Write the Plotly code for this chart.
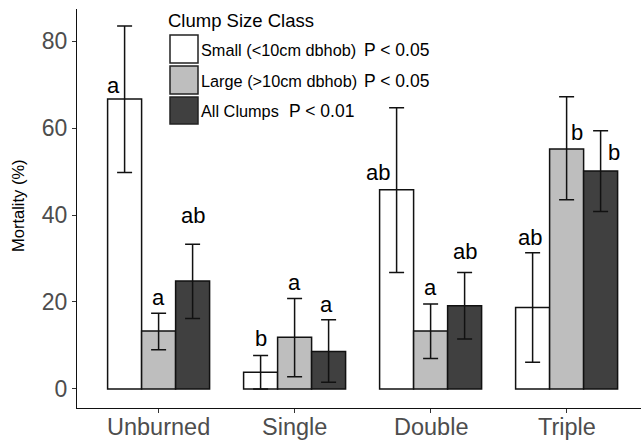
import plotly.graph_objects as go

# ---------------- data ----------------
categories = ["Unburned", "Single", "Double", "Triple"]

small_mean = [66.7, 3.8, 45.8, 18.7]
small_upper = [83.5, 7.7, 64.7, 31.3]
small_lower = [49.8, 0.0, 26.8, 6.1]

large_mean = [13.3, 11.9, 13.3, 55.2]
large_upper = [17.4, 20.8, 19.5, 67.2]
large_lower = [9.0, 2.8, 7.0, 43.5]

all_mean = [24.8, 8.6, 19.1, 50.1]
all_upper = [33.3, 15.9, 26.8, 59.4]
all_lower = [16.2, 1.5, 11.5, 40.8]

small_letters = ["a", "b", "ab", "ab"]
large_letters = ["a", "a", "a", "b"]
all_letters = ["ab", "a", "ab", "b"]

small_letter_y = [69.7, 11.7, 49.7, 34.9]
large_letter_y = [21.1, 24.5, 23.4, 58.9]
all_letter_y = [39.8, 19.5, 31.5, 54.3]

series_names = ["Small (<10cm dbhob)", "Large (>10cm dbhob)", "All Clumps"]
p_values = ["P < 0.05", "P < 0.05", "P < 0.01"]
legend_title = "Clump Size Class"
y_ticks = [0, 20, 40, 60, 80]

# ---------------- styling ----------------
FONT = "Liberation Sans, Arial, sans-serif"
colors = ["#ffffff", "#bebebe", "#404040"]
W, H = 641, 440
ML, MR, MT, MB = 77, 0, 9, 32
PW, PH = W - ML - MR, H - MT - MB


def px_x(p):
    return (p - ML) / PW


def px_y(p):
    return (H - MB - p) / PH


fig = go.Figure()
series = [
    (small_mean, small_upper, small_lower),
    (large_mean, large_upper, large_lower),
    (all_mean, all_upper, all_lower),
]
for i, (m, u, lo) in enumerate(series):
    fig.add_trace(go.Bar(
        x=categories, y=m, name=series_names[i],
        marker=dict(color=colors[i], line=dict(color="#111111", width=1.5)),
        error_y=dict(type="data", symmetric=False,
                     array=[a - b for a, b in zip(u, m)],
                     arrayminus=[b - c for b, c in zip(m, lo)],
                     color="#111111", thickness=1.5, width=7.5),
        showlegend=False,
    ))

# significance letters
offsets = [[-0.335, -0.25, -0.386, -0.27],
           [0.0, 0.0, 0.0, 0.077],
           [0.25, 0.238, 0.25, 0.35]]
letters = [small_letters, large_letters, all_letters]
letter_y = [small_letter_y, large_letter_y, all_letter_y]
for s in range(3):
    for c in range(len(categories)):
        fig.add_annotation(x=c + offsets[s][c], y=letter_y[s][c], xref="x", yref="y",
                           text=letters[s][c], showarrow=False,
                           font=dict(family=FONT, size=22, color="#000000"),
                           xanchor="center", yanchor="middle")

# x tick labels (drawn as annotations so they sit close to the axis)
for c, name in enumerate(categories):
    fig.add_annotation(x=c, y=px_y(427), xref="x", yref="paper", text=name,
                       showarrow=False, xanchor="center", yanchor="middle",
                       font=dict(family=FONT, size=23.5, color="#4d4d4d"))

# custom legend
fig.add_annotation(x=px_x(166), y=px_y(20), xref="paper", yref="paper",
                   text=legend_title, showarrow=False, xanchor="left", yanchor="middle",
                   font=dict(family=FONT, size=18.5, color="#000000"))
rows = [(35, 63), (66, 94), (97, 124)]
p_x = [362, 362, 287]
for i, (t, b) in enumerate(rows):
    fig.add_shape(type="rect", xref="paper", yref="paper",
                  x0=px_x(170), x1=px_x(198), y0=px_y(b), y1=px_y(t),
                  fillcolor=colors[i], line=dict(color="#222222", width=1.5))
    fig.add_annotation(x=px_x(199), y=px_y((t + b) / 2 + 1), xref="paper", yref="paper",
                       text=series_names[i], showarrow=False, xanchor="left", yanchor="middle",
                       font=dict(family=FONT, size=16.3, color="#000000"))
    fig.add_annotation(x=px_x(p_x[i]), y=px_y((t + b) / 2 + 1), xref="paper", yref="paper",
                       text=p_values[i], showarrow=False, xanchor="left", yanchor="middle",
                       font=dict(family=FONT, size=17.5, color="#000000"))

# y title
fig.add_annotation(x=px_x(18), y=px_y(206), xref="paper", yref="paper",
                   text="Mortality (%)", showarrow=False, textangle=-90,
                   xanchor="center", yanchor="middle",
                   font=dict(family=FONT, size=16.5, color="#000000"))

fig.update_layout(
    width=W, height=H,
    margin=dict(l=ML, r=MR, t=MT, b=MB, pad=0, autoexpand=False),
    paper_bgcolor="white", plot_bgcolor="white",
    barmode="group", bargap=0.25, bargroupgap=0,
    font=dict(family=FONT),
    xaxis=dict(type="category", range=[-0.6, 3.547], showgrid=False, zeroline=False,
               automargin=False, showticklabels=False,
               showline=True, linecolor="#111111", linewidth=1.3,
               ticks="outside", ticklen=4, tickcolor="#333333", tickwidth=1.2),
    yaxis=dict(range=[-4.4, 87.4], tickvals=y_ticks, showgrid=False, zeroline=False,
               automargin=False,
               showline=True, linecolor="#111111", linewidth=1.3,
               ticks="outside", ticklen=4, tickcolor="#333333", tickwidth=1.2,
               tickfont=dict(family=FONT, size=23, color="#4d4d4d")),
)

fig.write_html("out.html")
